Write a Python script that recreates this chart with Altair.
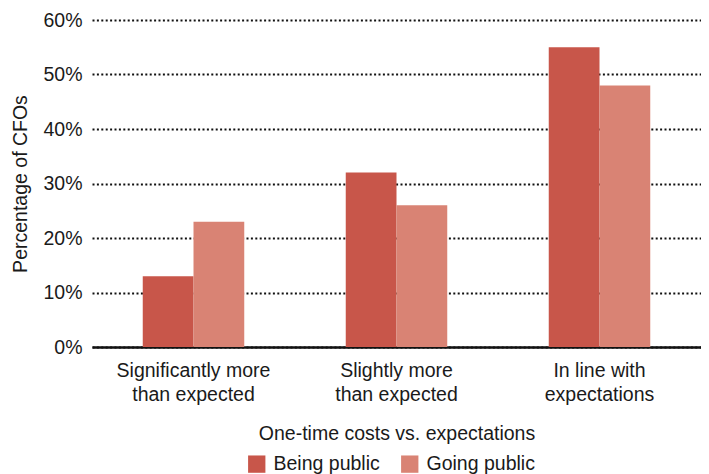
import altair as alt
import pandas as pd

categories = ["Significantly more\nthan expected", "Slightly more\nthan expected", "In line with\nexpectations"]
series = ["Being public", "Going public"]
being_public = [13, 32, 55]
going_public = [23, 26, 48]
colors = ["#C8564A", "#D98374"]

rows = []
for i, c in enumerate(categories):
    rows.append({"cat": c, "series": series[0], "value": being_public[i] / 100})
    rows.append({"cat": c, "series": series[1], "value": going_public[i] / 100})
df = pd.DataFrame(rows)

FONT = "Liberation Sans"
FS = 19.5
TXT = "#1a1a1a"

chart = alt.Chart(df).mark_bar().encode(
    x=alt.X("cat:N", sort=categories,
            scale=alt.Scale(paddingInner=0.5, paddingOuter=0.25),
            axis=alt.Axis(title="One-time costs vs. expectations", labelAngle=0,
                          labelExpr="split(datum.label, '\\n')",
                          labelFontSize=FS, labelLineHeight=24, labelPadding=14,
                          labelColor=TXT, titleColor=TXT,
                          titleFontSize=FS, titleFontWeight="normal", titlePadding=21,
                          domainColor="#111", domainWidth=2.5, ticks=False,
                          labelFont=FONT, titleFont=FONT)),
    xOffset=alt.XOffset("series:N", sort=series),
    y=alt.Y("value:Q", scale=alt.Scale(domain=[0, 0.6]),
            axis=alt.Axis(title="Percentage of CFOs", format=".0%", values=[0, .1, .2, .3, .4, .5, .6],
                          labelFontSize=FS, labelPadding=10, labelColor=TXT, titleColor=TXT,
                          titleFontSize=FS, titleFontWeight="normal", titlePadding=12,
                          domain=False, ticks=False, grid=True, gridColor="#111",
                          gridDash=[2, 2.4], gridWidth=2,
                          labelFont=FONT, titleFont=FONT)),
    color=alt.Color("series:N", sort=series,
                    scale=alt.Scale(domain=series, range=colors),
                    legend=alt.Legend(title=None, orient="none", direction="horizontal",
                                      legendX=155, legendY=434,
                                      symbolType="square", symbolSize=300, symbolStrokeWidth=0,
                                      symbolOpacity=1, labelFontSize=FS, labelFont=FONT,
                                      labelColor=TXT, columnPadding=20, labelOffset=7)),
).properties(
    width=609, height=327,
    autosize=alt.AutoSizeParams(type="none"),
    padding={"left": 84, "top": 12, "right": 0, "bottom": 127},
).configure_view(stroke=None)

chart.save("out.html", embed_options={"renderer": "svg", "actions": False})
